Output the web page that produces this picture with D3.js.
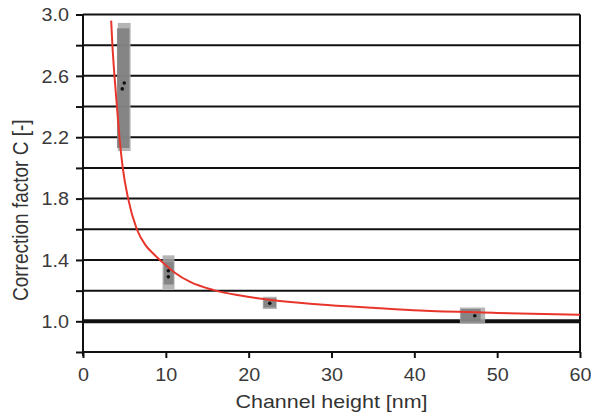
<!DOCTYPE html>
<html lang="en">
<head>
<meta charset="UTF-8">
<title>Correction factor</title>
<script src="https://d3js.org/d3.v7.min.js"></script>
<style>
  body { margin: 0; background: #fff; }
  text { font-family: "Liberation Sans", Arial, sans-serif; fill: #333; }
</style>
</head>
<body>
<div id="chart"></div>
<script>
  const width = 591;
  const height = 417;

  // fitted red curve
  const curveH = [3.4, 3.55, 3.8, 4.1, 4.4, 4.8, 5.45, 6.5, 7.5, 8.5, 9.5, 11.0, 13.0, 15.7, 19.0, 22.5, 28.6, 35.0, 40.7, 50.0, 60.0];
  const curveC = [2.96, 2.8, 2.6, 2.4, 2.2, 2.0, 1.8, 1.6, 1.5, 1.44, 1.39, 1.32, 1.255, 1.205, 1.168, 1.14, 1.11, 1.088, 1.07, 1.055, 1.042];

  // measurement ranges (gray boxes): channel height range and C range
  const boxHLo = [4.2, 9.6, 21.7, 45.5];
  const boxHHi = [5.75, 11.05, 23.4, 48.55];
  const boxCLo = [2.11, 1.21, 1.08, 0.985];
  const boxCHi = [2.945, 1.43, 1.16, 1.09];
  // darker core of each box
  const coreHLo = [4.1, 9.75, 21.8, 45.6];
  const coreHHi = [5.6, 10.95, 23.3, 48.0];
  const coreCLo = [2.13, 1.24, 1.09, 1.0];
  const coreCHi = [2.91, 1.39, 1.15, 1.08];

  // measured points
  const pointH = [4.98, 4.74, 10.3, 10.3, 22.55, 47.3];
  const pointC = [2.553, 2.515, 1.33, 1.29, 1.117, 1.036];

  const yTicks = [0.8, 1.0, 1.2, 1.4, 1.6, 1.8, 2.0, 2.2, 2.4, 2.6, 2.8, 3.0];
  const yLabels = [1.0, 1.4, 1.8, 2.2, 2.6, 3.0];
  const xTicks = [0, 10, 20, 30, 40, 50, 60];

  const margin = { top: 14.5, right: 11, bottom: 65, left: 83 };
  const stretch = 1.13; // text in the picture is a little wider than tall

  const svg = d3.select("#chart").append("svg")
    .attr("width", width)
    .attr("height", height);

  const x = d3.scaleLinear().domain([0, 60]).range([margin.left, width - margin.right]);
  const y = d3.scaleLinear().domain([0.8, 3.0]).range([height - margin.bottom, margin.top]);

  // horizontal grid lines
  svg.append("g")
    .selectAll("line")
    .data(yTicks)
    .join("line")
    .attr("x1", x(0))
    .attr("x2", x(60))
    .attr("y1", d => y(d))
    .attr("y2", d => y(d))
    .attr("stroke", "#111")
    .attr("stroke-width", d => Math.abs(d - 1.0) < 1e-6 ? 4 : 2);

  // right border
  svg.append("line")
    .attr("x1", x(60)).attr("x2", x(60))
    .attr("y1", y(3.0)).attr("y2", y(0.8))
    .attr("stroke", "#111").attr("stroke-width", 2);

  // boxes
  const boxes = d3.range(boxHLo.length);
  svg.append("g")
    .selectAll("rect")
    .data(boxes)
    .join("rect")
    .attr("x", i => x(boxHLo[i]))
    .attr("width", i => x(boxHHi[i]) - x(boxHLo[i]))
    .attr("y", i => y(boxCHi[i]))
    .attr("height", i => y(boxCLo[i]) - y(boxCHi[i]))
    .attr("fill", "#a8a8a8")
    .attr("opacity", 0.85);

  svg.append("g")
    .selectAll("rect")
    .data(boxes)
    .join("rect")
    .attr("x", i => x(coreHLo[i]))
    .attr("width", i => x(coreHHi[i]) - x(coreHLo[i]))
    .attr("y", i => y(coreCHi[i]))
    .attr("height", i => y(coreCLo[i]) - y(coreCHi[i]))
    .attr("fill", "#7c7c7c")
    .attr("opacity", 0.85);

  // points
  svg.append("g")
    .selectAll("circle")
    .data(d3.range(pointH.length))
    .join("circle")
    .attr("cx", i => x(pointH[i]))
    .attr("cy", i => y(pointC[i]))
    .attr("r", 1.8)
    .attr("fill", "#111");

  // red curve
  const line = d3.line()
    .x(i => x(curveH[i]))
    .y(i => y(curveC[i]))
    .curve(d3.curveMonotoneX);

  svg.append("path")
    .datum(d3.range(curveH.length))
    .attr("d", line)
    .attr("fill", "none")
    .attr("stroke", "#e8352c")
    .attr("stroke-width", 2);

  // y axis
  const yAxis = svg.append("g")
    .attr("transform", `translate(${x(0)},0)`)
    .call(d3.axisLeft(y).tickValues(yTicks).tickSize(7).tickFormat(d => yLabels.some(v => Math.abs(v - d) < 1e-6) ? d3.format(".1f")(d) : ""));
  yAxis.select(".domain").attr("stroke", "#111").attr("stroke-width", 2)
    .attr("d", `M0,${y(0.8) + 4}V${y(3.0)}`);
  yAxis.selectAll(".tick line").attr("stroke", "#111").attr("stroke-width", 2);
  yAxis.selectAll(".tick text").attr("x", -14 / stretch).attr("dy", "0.36em")
    .attr("transform", `scale(${stretch},1)`)
    .style("font-size", "17.5px").style("fill", "#3a3a3a");

  // x axis
  const xAxis = svg.append("g")
    .attr("transform", `translate(0,${y(0.8)})`)
    .call(d3.axisBottom(x).tickValues(xTicks).tickSize(6).tickFormat(d3.format("d")));
  xAxis.select(".domain").attr("stroke", "#111").attr("stroke-width", 2)
    .attr("d", `M${x(0)},0H${x(60)}`);
  xAxis.selectAll(".tick line").attr("stroke", "#111").attr("stroke-width", 2);
  xAxis.selectAll(".tick text").attr("y", 17).attr("dy", "0.71em")
    .attr("transform", `scale(${stretch},1)`)
    .style("font-size", "17.5px").style("fill", "#3a3a3a");

  // axis titles
  svg.append("text")
    .attr("transform", `translate(${(x(0) + x(60)) / 2},408) scale(${stretch},1)`)
    .attr("text-anchor", "middle")
    .style("font-size", "19px")
    .text("Channel height [nm]");

  svg.append("text")
    .attr("transform", `translate(28,${(y(0.8) + y(3.0)) / 2 + 27}) scale(${stretch},1) rotate(-90)`)
    .attr("text-anchor", "middle")
    .style("font-size", "19px")
    .text("Correction factor C [-]");
</script>
</body>
</html>
